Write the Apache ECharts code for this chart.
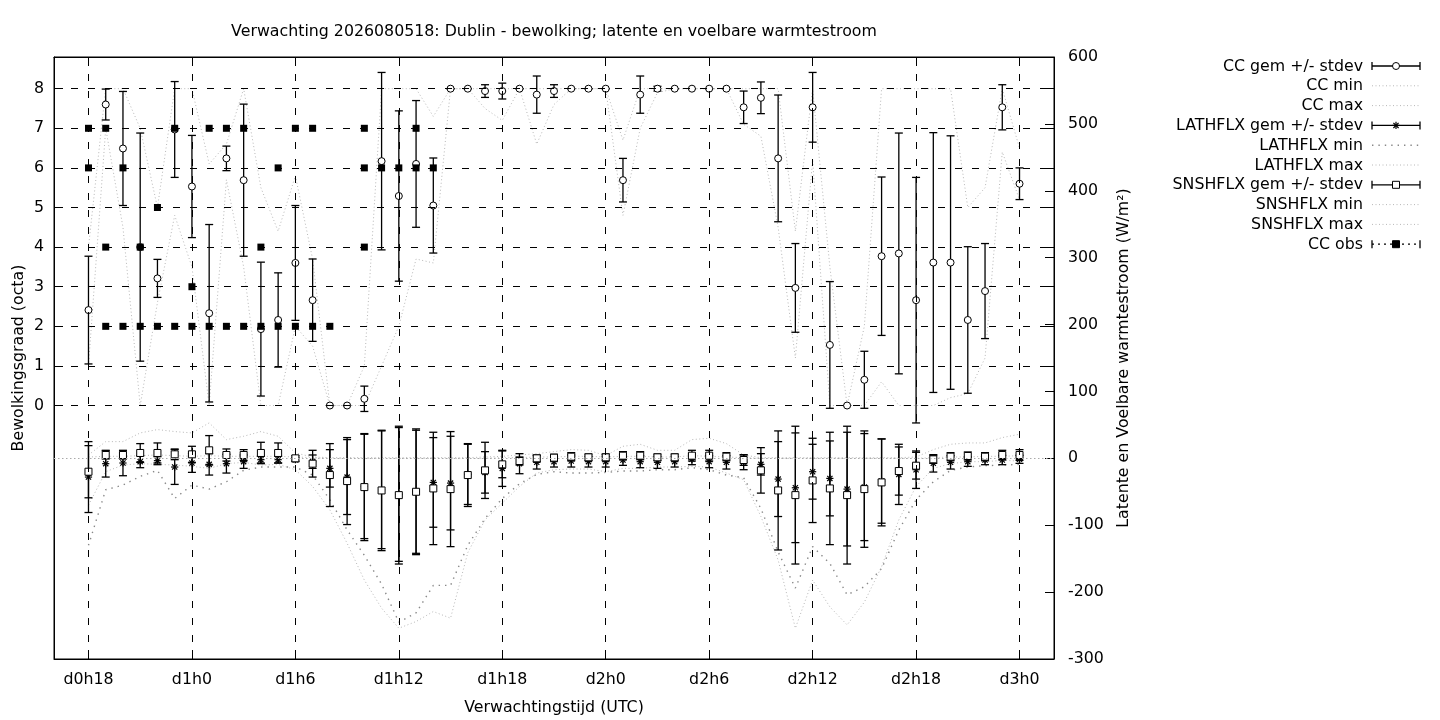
<!DOCTYPE html>
<html>
<head>
<meta charset="utf-8">
<title>Verwachting Dublin</title>
<script src="https://cdn.jsdelivr.net/npm/echarts@6.0.0/dist/echarts.min.js"></script>
<style>
  html, body { margin: 0; padding: 0; background: #fff; }
  #chart { width: 1440px; height: 720px; }
</style>
</head>
<body>
<div id="chart"></div>
<script>
// verwachtingsuren (uren na d0h0)
let hours = [18,19,20,21,22,23,24,25,26,27,28,29,30,31,32,33,34,35,36,37,38,39,40,41,42,43,44,45,46,47,
             48,49,50,51,52,53,54,55,56,57,58,59,60,61,62,63,64,65,66,67,68,69,70,71,72];
let xTicks = [18,24,30,36,42,48,54,60,66,72];
let ccTicks = [0,1,2,3,4,5,6,7,8];

// bewolking (octa)
let ccMean = [2.41,7.6,6.49,4.0,3.21,6.97,5.53,2.33,6.24,5.69,1.93,2.16,3.6,2.66,0,0,0.17,6.17,5.29,6.1,
              5.05,8,8,7.94,7.94,8,7.85,7.94,8,8,8,5.69,7.85,8,8,8,8,8,7.53,7.77,
              6.24,2.97,7.53,1.53,0,0.65,3.77,3.84,2.66,3.61,3.61,2.16,2.89,7.53,5.6];
let ccSd   = [1.36,0.39,1.44,2.88,0.48,1.21,1.29,2.24,0.31,1.92,1.69,1.19,1.45,1.04,0,0,0.32,2.24,2.15,1.6,
              1.2,0,0,0.16,0.2,0,0.47,0.16,0,0,0,0.55,0.47,0.06,0,0,0,0,0.41,0.4,
              1.6,1.12,0.88,1.6,0,0.72,2.0,3.04,3.1,3.28,3.2,1.85,1.2,0.57,0.4];
let ccMin  = [1,7,4.5,0,2.6,4.8,3.5,0,5.7,3.5,0,0,2,1.5,0,0,0,1,2,3.7,
              3.6,8,8,7.5,7.2,8,6.6,7.6,8,8,8,4.8,7,7.9,8,8,8,8,7.1,6.8,
              4.5,1.2,6.2,0,0,0,0.6,0,0,0,0.2,0.3,1.2,6.4,5.2];
let ccMax  = [4,8,8,7,5,8,8,6.1,6.6,8,5.5,4.4,5.8,3.7,0,0,1,8,8,8,
              7.3,8,8,8,8,8,8,8,8,8,8,6.7,8,8,8,8,8,8,8,8,
              8,4.4,8,3.5,0,2,8,8,8,8,8,5,5.5,8,6.5];

// waarnemingen bewolking
let obsHours = [18,18,19,19,19,20,20,21,21,22,22,23,23,24,24,25,25,26,26,27,27,28,28,29,29,30,30,31,31,32,34,34,34,35,36,37,37,38];
let obsCC    = [7,6,7,4,2,6,2,4,2,5,2,7,2,3,2,7,2,7,2,7,2,4,2,6,2,7,2,7,2,2,7,6,4,6,6,7,6,6];

// latente warmtestroom (W/m2)
let lathMean = [-28,-8,-7,-5,-3.5,-13,-7,-9,-8,-5,-2,-2,-2,-5,-15,-28,-42,-47,-54,-50,
                -36,-37,-24,-21,-15,-8,-6,-5,-4,-5,-5,-2.5,-5,-6,-5,-1.5,-5,-6,-6,-9,
                -31,-44,-20,-30,-46,-43,-34,-24,-17,-7.5,-6,-5,-2.5,-2.5,-1.5];
let lathSd   = [53,20,19,9,6,26,14,16,14,10,5,5,3,10,28,56,78,88,100,92,
                67,70,45,31,27,15,10,8,9,8,8,8,9,9,8,8,9,10,11,16,
                56,82,41,56,85,80,63,45,28,13,10,7,7,7,6];
let lathMin  = [-130,-47,-40,-27,-18,-60,-40,-46,-35,-18,-13,-13,-13,-25,-62,-107,-145,-188,-245,-231,
                -190,-190,-130,-90,-60,-38,-24,-20,-22,-22,-21,-19,-19,-17,-17,-14,-17,-25,-29,-75,
                -140,-194,-132,-157,-204,-192,-165,-107,-62,-35,-18,-13,-11,-10,-9];
let lathMax  = [2,3,3,4,5,4,3,4,3,3,3,3,2,1,0,0,0,0,0,0,
                0,0,0,0,1,1,2,2,3,3,2,3,3,2,2,4,3,2,1,0,
                0,0,0,0,0,0,0,0,0,1,2,2,3,3,4];

// voelbare warmtestroom (W/m2)
let snshMean = [-20,5,5,8,8,6,6,12,5,5,8,8,0,-8,-25,-34,-43,-48,-55,-50,
                -45,-46,-25,-18,-9,-4,0,1,2.5,1.5,1.5,4,4,1.5,1.5,4,4,2.5,-2.5,-18,
                -48,-55,-33,-45,-55,-46,-36,-19,-11,-1.5,2.5,3.5,2.5,5,5];
let snshSd   = [39,6,6,14,15,8,12,22,9,8,16,15,4,20,47,65,80,90,103,94,
                84,86,47,42,20,6,5,5,6,5,5,6,6,5,5,8,8,6,8,34,
                89,103,63,84,103,87,65,36,20,6,6,6,6,7,8];
let snshMin  = [-70,-20,-10,-8,-9,-10,-12,-15,-8,-6,-10,-9,-17,-42,-77,-127,-182,-224,-254,-244,
                -229,-239,-141,-92,-67,-42,-22,-17,-16,-16,-20,-15,-15,-13,-13,-12,-13,-22,-32,-87,
                -152,-254,-182,-222,-249,-215,-162,-92,-42,-15,-8,-5,-5,-3,-4];
let snshMax  = [5,25,25,38,43,40,38,53,28,33,40,33,8,2,1,1,1,1,1,1,
                1,1,1,2,3,5,7,10,13,12,4,18,21,12,12,28,30,22,5,1,
                1,1,1,1,1,1,1,1,2,13,21,23,23,31,36];

let FONT = '"DejaVu Sans", sans-serif';
let FS = 15.8;

function tijdLabel(v) {
    return 'd' + Math.floor(v / 24) + 'h' + (v % 24);
}
function pairs(vals) {
    return hours.map(function (h, i) { return [h, vals[i]]; });
}
function bars(mean, sd) {
    return hours.map(function (h, i) { return [h, mean[i] - sd[i], mean[i] + sd[i]]; });
}

// foutbalk met kapjes
function renderBar(params, api) {
    let x = api.value(0);
    let lo = api.coord([x, api.value(1)]);
    let hi = api.coord([x, api.value(2)]);
    let c = 4;
    let st = {stroke: '#000', lineWidth: 1.3};
    return {type: 'group', children: [
        {type: 'line', shape: {x1: lo[0], y1: lo[1], x2: hi[0], y2: hi[1]}, style: st},
        {type: 'line', shape: {x1: lo[0] - c, y1: lo[1], x2: lo[0] + c, y2: lo[1]}, style: st},
        {type: 'line', shape: {x1: hi[0] - c, y1: hi[1], x2: hi[0] + c, y2: hi[1]}, style: st}
    ]};
}
// sterretje (LATHFLX)
function starShapes(cx, cy) {
    let r = 3.6, d = 2.6;
    let st = {stroke: '#000', lineWidth: 1.2};
    return [
        {type: 'line', shape: {x1: cx - r, y1: cy, x2: cx + r, y2: cy}, style: st},
        {type: 'line', shape: {x1: cx, y1: cy - r, x2: cx, y2: cy + r}, style: st},
        {type: 'line', shape: {x1: cx - d, y1: cy - d, x2: cx + d, y2: cy + d}, style: st},
        {type: 'line', shape: {x1: cx - d, y1: cy + d, x2: cx + d, y2: cy - d}, style: st}
    ];
}
function renderStar(params, api) {
    let p = api.coord([api.value(0), api.value(1)]);
    return {type: 'group', children: starShapes(p[0], p[1])};
}

let dotLight = {color: '#b8b8b8', width: 1, type: [1, 2.5]};
let dotDark = {color: '#888', width: 1.4, type: [1.4, 5]};

function dotLine(name, vals, axis, style) {
    return {name: name, type: 'line', yAxisIndex: axis, data: pairs(vals), symbol: 'none',
        showSymbol: false, lineStyle: style, silent: true, clip: true, z: 2};
}
function errSeries(name, mean, sd, axis) {
    return {name: name, type: 'custom', yAxisIndex: axis, data: bars(mean, sd),
        renderItem: renderBar, encode: {x: 0, y: [1, 2]}, silent: true, clip: true, z: 3};
}
function markSeries(name, vals, axis, symbol, fill) {
    return {name: name, type: 'scatter', yAxisIndex: axis, data: pairs(vals), symbol: symbol,
        symbolSize: 7, silent: true, z: 4,
        itemStyle: {color: fill, borderColor: '#000', borderWidth: 1, opacity: 1}};
}

// legenda rechtsboven (tekst rechts uitgelijnd, voorbeeld erachter)
let legendItems = [
    {name: 'CC gem +/- stdev', kind: 'bar', mark: 'circle'},
    {name: 'CC min', kind: 'light'},
    {name: 'CC max', kind: 'light'},
    {name: 'LATHFLX gem +/- stdev', kind: 'bar', mark: 'star'},
    {name: 'LATHFLX min', kind: 'dark'},
    {name: 'LATHFLX max', kind: 'light'},
    {name: 'SNSHFLX gem +/- stdev', kind: 'bar', mark: 'square'},
    {name: 'SNSHFLX min', kind: 'light'},
    {name: 'SNSHFLX max', kind: 'light'},
    {name: 'CC obs', kind: 'obs', mark: 'filled'}
];
function buildLegend() {
    let els = [];
    let x1 = 1372, x2 = 1420, xm = 1396;
    legendItems.forEach(function (it, i) {
        let y = 66 + i * 19.8;
        els.push({type: 'text', x: 1363, y: y + 0.5, style: {text: it.name, fill: '#000', font: FS + 'px ' + FONT,
            textAlign: 'right', align: 'right', textVerticalAlign: 'middle', verticalAlign: 'middle'}});
        if (it.kind === 'light' || it.kind === 'dark') {
            let ls = it.kind === 'light' ? dotLight : dotDark;
            els.push({type: 'line', shape: {x1: x1, y1: y, x2: x2, y2: y},
                style: {stroke: ls.color, lineWidth: ls.width, lineDash: ls.type}});
            return;
        }
        let st = {stroke: '#000', lineWidth: 1.3};
        let lineSt = it.kind === 'obs' ? {stroke: '#000', lineWidth: 1.3, lineDash: [2, 4]} : st;
        els.push({type: 'line', shape: {x1: x1, y1: y, x2: x2, y2: y}, style: lineSt});
        els.push({type: 'line', shape: {x1: x1, y1: y - 4, x2: x1, y2: y + 4}, style: st});
        els.push({type: 'line', shape: {x1: x2, y1: y - 4, x2: x2, y2: y + 4}, style: st});
        if (it.mark === 'circle') {
            els.push({type: 'circle', shape: {cx: xm, cy: y, r: 3.5}, style: {fill: '#fff', stroke: '#000', lineWidth: 1}});
        } else if (it.mark === 'square') {
            els.push({type: 'rect', shape: {x: xm - 3.5, y: y - 3.5, width: 7, height: 7}, style: {fill: '#fff', stroke: '#000', lineWidth: 1}});
        } else if (it.mark === 'filled') {
            els.push({type: 'rect', shape: {x: xm - 3.5, y: y - 3.5, width: 7, height: 7}, style: {fill: '#000', stroke: '#000', lineWidth: 1}});
        } else if (it.mark === 'star') {
            starShapes(xm, y).forEach(function (s) { els.push(s); });
        }
    });
    return els;
}

let gridLine = {color: '#000', width: 1, type: [7, 10]};
let axisTxt = {color: '#000', fontFamily: FONT, fontSize: FS};

let option = {
    animation: false,
    backgroundColor: '#fff',
    title: {
        text: 'Verwachting 2026080518: Dublin - bewolking; latente en voelbare warmtestroom',
        left: 549, top: 19, textAlign: 'center',
        textStyle: {color: '#000', fontFamily: FONT, fontSize: FS, fontWeight: 'normal'}
    },
    grid: {left: 54, right: 386, top: 57, bottom: 61, show: true, borderColor: '#000', borderWidth: 1,
        containLabel: false, outerBoundsMode: 'none'},
    xAxis: [{
        type: 'value', min: 16, max: 74, position: 'bottom',
        name: 'Verwachtingstijd (UTC)', nameLocation: 'middle', nameGap: 41, nameTextStyle: axisTxt,
        nameMoveOverlap: false,
        axisLine: {show: true, onZero: false, lineStyle: {color: '#000'}},
        axisTick: {inside: true, length: 9, customValues: xTicks, lineStyle: {color: '#000'}},
        axisLabel: {customValues: xTicks, formatter: tijdLabel, margin: 13, color: '#000', fontFamily: FONT, fontSize: FS},
        splitLine: {show: false}
    }, {
        type: 'value', min: 16, max: 74, position: 'top',
        axisLine: {show: true, onZero: false, lineStyle: {color: '#000'}},
        axisTick: {inside: true, length: 9, customValues: xTicks, lineStyle: {color: '#000'}},
        axisLabel: {show: false}, splitLine: {show: false}
    }],
    yAxis: [{
        type: 'value', min: -6.4, max: 8.8, position: 'left',
        name: 'Bewolkingsgraad (octa)', nameLocation: 'middle', nameGap: 27, nameTextStyle: axisTxt,
        nameMoveOverlap: false,
        axisLine: {show: true, onZero: false, lineStyle: {color: '#000'}},
        axisTick: {inside: true, length: 9, customValues: ccTicks, lineStyle: {color: '#000'}},
        axisLabel: {customValues: ccTicks, margin: 10, color: '#000', fontFamily: FONT, fontSize: FS},
        splitLine: {show: false}
    }, {
        type: 'value', min: -300, max: 600, interval: 100, position: 'right',
        name: 'Latente en Voelbare warmtestroom (W/m²)', nameLocation: 'middle', nameGap: 62, nameTextStyle: axisTxt,
        nameMoveOverlap: false,
        axisLine: {show: true, onZero: false, lineStyle: {color: '#000'}},
        axisTick: {inside: true, length: 9, lineStyle: {color: '#000'}},
        axisLabel: {margin: 14, color: '#000', fontFamily: FONT, fontSize: FS},
        splitLine: {show: false}
    }, {
        type: 'value', min: -6.4, max: 8.8, position: 'right',
        axisLine: {show: false, onZero: false},
        axisTick: {inside: true, length: 9, customValues: ccTicks, lineStyle: {color: '#000'}},
        axisLabel: {show: false}, splitLine: {show: false}
    }],
    graphic: buildLegend(),
    series: [
        {
            name: 'rooster', type: 'line', yAxisIndex: 0, data: pairs(hours.map(function () { return null; })),
            symbol: 'none', silent: true, z: 1,
            markLine: {
                silent: true, symbol: ['none', 'none'], label: {show: false}, lineStyle: gridLine,
                data: xTicks.map(function (v) { return {xAxis: v}; })
                    .concat(ccTicks.map(function (v) { return {yAxis: v}; }))
            }
        },
        {
            name: 'nullijn', type: 'line', yAxisIndex: 1, data: pairs(hours.map(function () { return null; })),
            symbol: 'none', silent: true, z: 1,
            markLine: {
                silent: true, symbol: ['none', 'none'], label: {show: false},
                lineStyle: {color: '#aaa', width: 1, type: [1.5, 2.5]},
                data: [{yAxis: 0}]
            }
        },
        errSeries('CC gem +/- stdev', ccMean, ccSd, 0),
        markSeries('CC gem', ccMean, 0, 'circle', '#fff'),
        dotLine('CC min', ccMin, 0, dotLight),
        dotLine('CC max', ccMax, 0, dotLight),
        errSeries('LATHFLX gem +/- stdev', lathMean, lathSd, 1),
        {name: 'LATHFLX gem', type: 'custom', yAxisIndex: 1, data: pairs(lathMean), renderItem: renderStar,
            encode: {x: 0, y: 1}, silent: true, clip: true, z: 4},
        dotLine('LATHFLX min', lathMin, 1, dotDark),
        dotLine('LATHFLX max', lathMax, 1, dotLight),
        errSeries('SNSHFLX gem +/- stdev', snshMean, snshSd, 1),
        markSeries('SNSHFLX gem', snshMean, 1, 'rect', '#fff'),
        dotLine('SNSHFLX min', snshMin, 1, dotLight),
        dotLine('SNSHFLX max', snshMax, 1, dotLight),
        {name: 'CC obs', type: 'scatter', yAxisIndex: 0,
            data: obsHours.map(function (h, i) { return [h, obsCC[i]]; }),
            symbol: 'rect', symbolSize: 7, silent: true, z: 5,
            itemStyle: {color: '#000', opacity: 1}}
    ]
};

let chart = echarts.init(document.getElementById('chart'));
chart.setOption(option);
</script>
</body>
</html>
